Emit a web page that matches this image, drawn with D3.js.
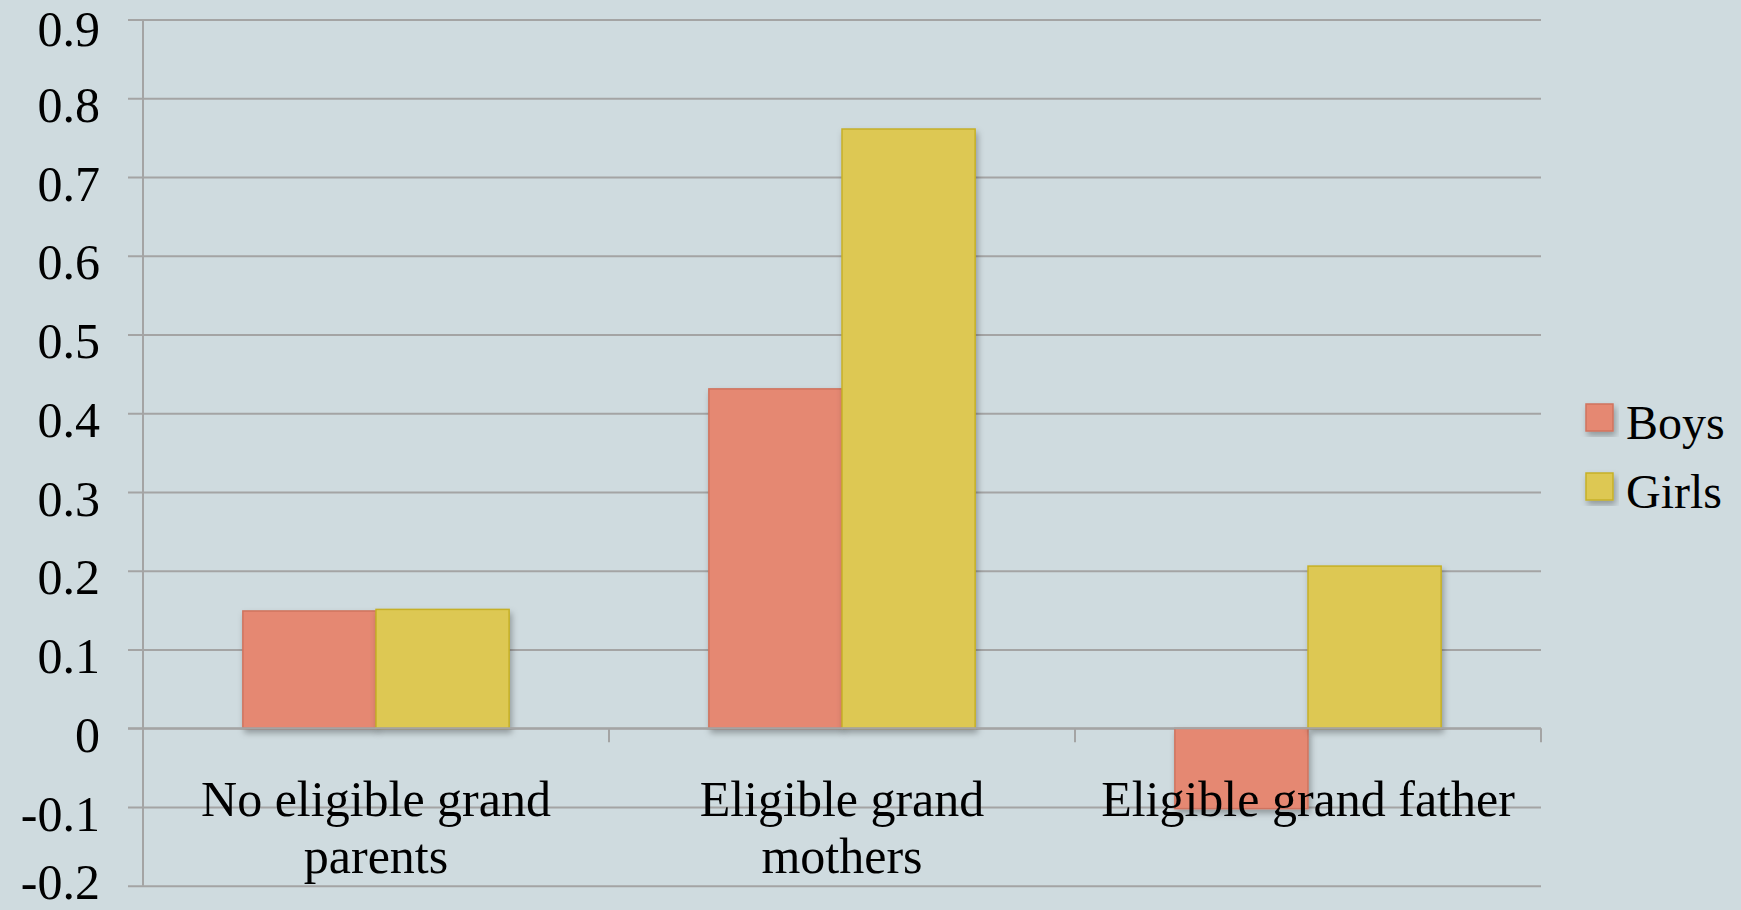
<!DOCTYPE html>
<html>
<head>
<meta charset="utf-8">
<script src="https://cdn.jsdelivr.net/npm/d3@7"></script>
<style>
  html, body { margin: 0; padding: 0; background: #cfdbdf; }
  svg { display: block; }
  text { font-family: "Liberation Serif", "Times New Roman", serif; fill: #000; }
</style>
</head>
<body>
<svg id="chart" width="1741" height="910"></svg>
<script>
// Grandparent eligibility effect, by sex of the child
const categories = ["No eligible grand parents", "Eligible grand mothers", "Eligible grand father"];
const categoryLines = [["No eligible grand", "parents"], ["Eligible grand", "mothers"], ["Eligible grand father"]];
const seriesNames = ["Boys", "Girls"];
const boysValues = [0.149, 0.431, -0.102];
const girlsValues = [0.151, 0.761, 0.206];
const tickValues = [0.9, 0.8, 0.7, 0.6, 0.5, 0.4, 0.3, 0.2, 0.1, 0, -0.1, -0.2];
const tickLabels = ["0.9", "0.8", "0.7", "0.6", "0.5", "0.4", "0.3", "0.2", "0.1", "0", "-0.1", "-0.2"];

const fills = { Boys: "#e58872", Girls: "#ddc852" };
const strokes = { Boys: "#cf735e", Girls: "#c6b026" };
const gridColor = "#a4a4a4";

const svg = d3.select("#chart");
const W = 1741, H = 910;
const plotLeft = 143, plotRight = 1541, gridLeft = 128;
const tickFont = 50;

svg.append("rect").attr("width", W).attr("height", H).attr("fill", "#cfdbdf");

const defs = svg.append("defs");
const shadow = defs.append("filter").attr("id", "barShadow")
  .attr("x", "-20%").attr("y", "-20%").attr("width", "140%").attr("height", "140%");
shadow.append("feDropShadow").attr("dx", 2).attr("dy", 4).attr("stdDeviation", 3)
  .attr("flood-color", "#000").attr("flood-opacity", 0.3);

const y = d3.scaleLinear().domain([-0.2, 0.9]).range([885.8, 19.55]);

const x0 = d3.scaleBand().domain(categories).range([plotLeft, plotRight])
  .paddingInner(0.4286).paddingOuter(0.2143);
const x1 = d3.scaleBand().domain(seriesNames).range([0, x0.bandwidth()]).padding(0);

// Horizontal gridlines and value labels
const yAxis = d3.axisLeft(y)
  .tickValues(tickValues)
  .tickFormat((d, i) => tickLabels[i])
  .tickSizeInner(-(plotRight - gridLeft))
  .tickSizeOuter(0)
  .tickPadding(28);

const gy = svg.append("g").attr("transform", `translate(${gridLeft},0)`).call(yAxis);
gy.select(".domain").remove();
gy.selectAll(".tick line").attr("stroke", gridColor).attr("stroke-width", 2);
// Labels sit just below their gridline, kept inside the canvas at both ends
gy.selectAll(".tick text")
  .attr("dy", null)
  .attr("y", d => {
    const base = y(d) + 23;
    const clamped = Math.min(Math.max(base, tickFont * 0.9), H - tickFont * 0.23);
    return clamped - y(d);
  })
  .style("font-family", "'Liberation Serif', serif")
  .style("font-size", tickFont + "px").attr("fill", "#000");

// Bars
const rows = categories.map((c, i) => ({ category: c, values: [
  { key: "Boys", value: boysValues[i] },
  { key: "Girls", value: girlsValues[i] }
]}));

const groups = svg.append("g").selectAll("g").data(rows).join("g")
  .attr("transform", d => `translate(${x0(d.category)},0)`);

groups.selectAll("rect").data(d => d.values).join("rect")
  .attr("x", d => x1(d.key))
  .attr("width", x1.bandwidth())
  .attr("y", d => y(Math.max(0, d.value)))
  .attr("height", d => Math.abs(y(d.value) - y(0)))
  .attr("fill", d => fills[d.key])
  .attr("stroke", d => strokes[d.key])
  .attr("stroke-width", 1.5)
  .attr("filter", "url(#barShadow)");

// Category axis along zero with ticks between categories
const y0 = y(0);
svg.append("line").attr("x1", gridLeft).attr("x2", plotRight).attr("y1", y0).attr("y2", y0)
  .attr("stroke", gridColor).attr("stroke-width", 2);
svg.append("g").selectAll("line").data(categories).join("line")
  .attr("x1", (c, i) => plotLeft + x0.step() * (i + 1))
  .attr("x2", (c, i) => plotLeft + x0.step() * (i + 1))
  .attr("y1", y0).attr("y2", y0 + 14)
  .attr("stroke", gridColor).attr("stroke-width", 2);

// Vertical axis
svg.append("line").attr("x1", plotLeft).attr("x2", plotLeft)
  .attr("y1", y(0.9)).attr("y2", y(-0.2))
  .attr("stroke", gridColor).attr("stroke-width", 2);

// Category labels
const labels = svg.append("g").selectAll("text").data(categories).join("text")
  .attr("x", c => x0(c) + x0.bandwidth() / 2)
  .attr("y", y0 + 88)
  .attr("text-anchor", "middle")
  .style("font-size", "50px");
labels.selectAll("tspan").data((c, i) => categoryLines[i]).join("tspan")
  .attr("x", function () { return d3.select(this.parentNode).attr("x"); })
  .attr("dy", (d, i) => i === 0 ? 0 : 57)
  .text(d => d);

// Legend
const legend = svg.append("g").attr("transform", "translate(1586,404)");
const items = legend.selectAll("g").data(seriesNames).join("g")
  .attr("transform", (d, i) => `translate(0,${i * 69})`);
items.append("rect").attr("width", 27).attr("height", 27)
  .attr("fill", d => fills[d]).attr("stroke", d => strokes[d]).attr("stroke-width", 1.5)
  .attr("filter", "url(#barShadow)");
items.append("text").attr("x", 40).attr("y", 35)
  .style("font-size", "48px").text(d => d);
</script>
</body>
</html>
